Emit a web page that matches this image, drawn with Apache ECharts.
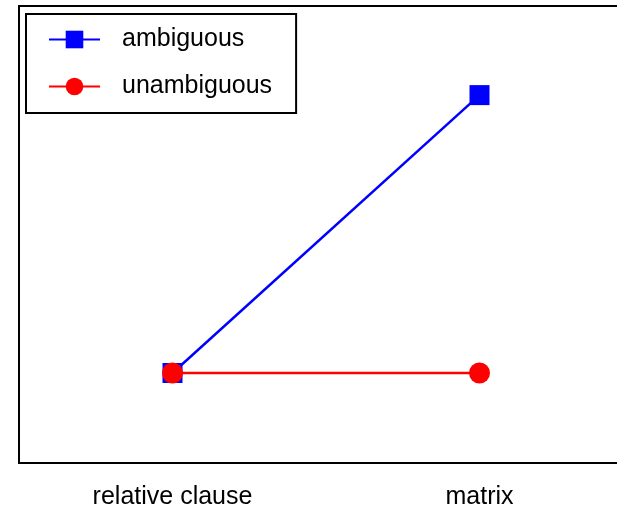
<!DOCTYPE html>
<html>
<head>
<meta charset="utf-8">
<script src="https://cdn.jsdelivr.net/npm/echarts@6/dist/echarts.min.js"></script>
<style>
  html, body { margin: 0; padding: 0; background: #fff; }
  #main { width: 617px; height: 510px; }
</style>
</head>
<body>
<div id="main"></div>
<script>
// data
var categories = ['relative clause', 'matrix'];
var ambiguous = [19.7, 80.5];
var unambiguous = [19.7, 19.7];

var chart = echarts.init(document.getElementById('main'), null, { renderer: 'canvas' });

var option = {
  animation: false,
  backgroundColor: '#fff',
  textStyle: { fontFamily: 'Liberation Sans, Arial, sans-serif' },
  grid: {
    left: 19,
    top: 6,
    width: 614,
    bottom: 47,
    outerBoundsMode: 'none',
    containLabel: false,
    show: true,
    borderColor: '#000',
    borderWidth: 2
  },
  legend: {
    orient: 'vertical',
    left: 26,
    top: 14,
    padding: [13, 24, 14, 22],
    borderColor: '#000',
    borderWidth: 2,
    itemWidth: 51,
    itemHeight: 22,
    itemGap: 22,
    textStyle: {
      fontSize: 25,
      lineHeight: 25,
      color: '#000',
      padding: [0, 0, 0, 17]
    },
    data: ['ambiguous', 'unambiguous']
  },
  xAxis: {
    type: 'category',
    data: categories,
    boundaryGap: true,
    axisLine: { show: true, lineStyle: { color: '#000', width: 2 } },
    axisTick: { show: false },
    axisLabel: { fontSize: 25, color: '#000', margin: 22 }
  },
  yAxis: {
    type: 'value',
    min: 0,
    max: 100,
    axisLine: { show: true, lineStyle: { color: '#000', width: 2 } },
    axisTick: { show: false },
    axisLabel: { show: false },
    splitLine: { show: false }
  },
  series: [{
    name: 'ambiguous',
    type: 'line',
    data: ambiguous,
    symbol: 'rect',
    symbolSize: 20,
    lineStyle: { color: '#0000ff', width: 2.5 },
    itemStyle: { color: '#0000ff' }
  }, {
    name: 'unambiguous',
    type: 'line',
    data: unambiguous,
    symbol: 'circle',
    symbolSize: 21,
    lineStyle: { color: '#ff0000', width: 2.5 },
    itemStyle: { color: '#ff0000' }
  }]
};

chart.setOption(option);
</script>
</body>
</html>
